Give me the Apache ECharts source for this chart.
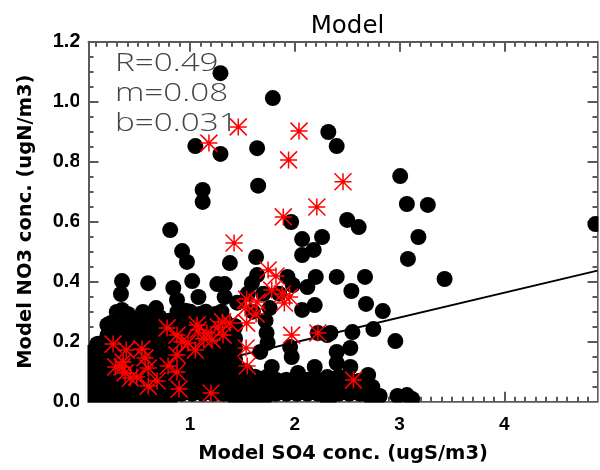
<!DOCTYPE html>
<html><head><meta charset="utf-8">
<style>html,body{margin:0;padding:0;background:#fff}#c{width:600px;height:470px}</style>
<script src="https://cdn.jsdelivr.net/npm/echarts@6/dist/echarts.min.js"></script></head>
<body><div id="c"></div>
<script>
const titleText = "Model";
const xName = "Model SO4 conc. (ugS/m3)";
const yName = "Model NO3 conc. (ugN/m3)";
const statLines = ["R=0.49", "m=0.08", "b=0.031"];
const xMajor = [1, 2, 3, 4];
const yRange = [0, 1.2];
const xRange = [0.03, 4.89];
const fitLine = [[0.03, 0.035], [4.89, 0.437]];

const blackSparse = [
[1.29,1.095],[1.79,1.012],[1.05,0.852],[1.29,0.826],[1.64,0.845],[2.32,0.899],[2.40,0.852],[1.65,0.72],[1.12,0.706],[1.12,0.666],
[3.006,0.752],[3.07,0.659],[3.27,0.656],[3.18,0.549],[3.08,0.476],[3.43,0.409],[2.50,0.606],[2.61,0.582],[2.40,0.416],[2.67,0.416],
[2.54,0.369],[2.68,0.326],[2.84,0.302],[2.75,0.242],[2.55,0.232],[2.96,0.202],[2.53,0.179],[2.40,0.166],[2.40,0.129],[2.53,0.116],
[2.70,0.089],[2.74,0.049],[2.81,0.019],[2.98,0.019],[3.07,0.022],[3.12,0.009],[4.87,0.592],[2.34,0.229],[2.62,0.07],[2.45,0.06],
[0.81,0.572],[0.924,0.502],[0.97,0.466],[1.63,0.482],[1.38,0.462],[1.965,0.599],[2.07,0.542],[2.26,0.549],[2.07,0.489],[2.18,0.506],
[2.20,0.416],[1.93,0.416],[1.64,0.422],[1.59,0.395],[0.35,0.402],[0.60,0.395],[0.34,0.359],[0.84,0.379],[1.02,0.402],[1.26,0.392],
[1.33,0.392],[1.08,0.349],[0.875,0.339],[1.33,0.349],[0.675,0.312],[0.55,0.299],[0.35,0.306],[0.30,0.299],[0.21,0.256],[2.12,0.382],
[2.19,0.322],[2.07,0.306],[1.98,0.389],[1.76,0.312],[1.73,0.229],[1.74,0.196],[1.67,0.166],[1.955,0.182],[1.97,0.149],[2.22,0.229],
[2.31,0.222],[1.78,0.116],[2.03,0.096],[2.19,0.116],[2.31,0.082],[1.73,0.082],[1.85,0.36],[1.70,0.36],[1.55,0.36],[1.45,0.33],
[1.30,0.30],[1.15,0.30],[1.0,0.30],[0.88,0.30],[0.80,0.27],[0.65,0.27],[0.50,0.27],[0.40,0.27],[1.6,0.30],[1.72,0.27]
];
const blackDense = [
[0.03,0.16],[0.03,0.12],[0.03,0.08],[0.03,0.04],[0.03,0.0],[0.12,0.19],[0.12,0.15],[0.12,0.11],[0.12,0.07],[0.12,0.03],[0.12,0.0],
[0.22,0.22],[0.22,0.18],[0.22,0.14],[0.22,0.10],[0.22,0.06],[0.22,0.02],[0.32,0.24],[0.32,0.20],[0.32,0.16],[0.32,0.12],[0.32,0.08],[0.32,0.04],[0.32,0.0],
[0.42,0.25],[0.42,0.21],[0.42,0.17],[0.42,0.13],[0.42,0.09],[0.42,0.05],[0.42,0.01],[0.52,0.25],[0.52,0.21],[0.52,0.17],[0.52,0.13],[0.52,0.09],[0.52,0.05],[0.52,0.01],
[0.62,0.25],[0.62,0.21],[0.62,0.17],[0.62,0.13],[0.62,0.09],[0.62,0.05],[0.62,0.01],[0.72,0.25],[0.72,0.21],[0.72,0.17],[0.72,0.13],[0.72,0.09],[0.72,0.05],[0.72,0.01],
[0.82,0.26],[0.82,0.22],[0.82,0.18],[0.82,0.14],[0.82,0.10],[0.82,0.06],[0.82,0.02],[0.92,0.27],[0.92,0.23],[0.92,0.19],[0.92,0.15],[0.92,0.11],[0.92,0.07],[0.92,0.03],
[1.02,0.27],[1.02,0.23],[1.02,0.19],[1.02,0.15],[1.02,0.11],[1.02,0.07],[1.02,0.03],[1.12,0.27],[1.12,0.23],[1.12,0.19],[1.12,0.15],[1.12,0.11],[1.12,0.07],[1.12,0.03],
[1.22,0.27],[1.22,0.23],[1.22,0.19],[1.22,0.15],[1.22,0.11],[1.22,0.07],[1.22,0.03],[1.32,0.27],[1.32,0.23],[1.32,0.19],[1.32,0.15],[1.32,0.11],[1.32,0.07],[1.32,0.03],
[1.42,0.14],[1.42,0.10],[1.42,0.06],[1.42,0.02],[1.52,0.10],[1.52,0.07],[1.52,0.04],[1.52,0.0],[1.62,0.08],[1.62,0.05],[1.62,0.02],[1.72,0.05],[1.72,0.02],
[1.82,0.07],[1.82,0.03],[1.87,0.05],[1.92,0.07],[1.92,0.03],[1.97,0.05],[2.02,0.07],[2.02,0.03],[2.07,0.05],[2.12,0.07],[2.12,0.03],[2.17,0.05],[2.22,0.07],[2.22,0.03],[2.27,0.05],[2.32,0.05],[2.32,0.01],[2.42,0.08],[2.42,0.03],[2.52,0.07],[2.52,0.03],[2.62,0.03],[2.72,0.02],
[1.42,0.25],[1.42,0.21],[1.42,0.18],[0.25,0.26],[0.40,0.29],[0.58,0.28],[0.70,0.28],[0.96,0.30],[1.10,0.29],[1.25,0.29]
];
const redStars = [
[1.46,0.916],[1.18,0.862],[2.04,0.902],[1.94,0.806],[2.21,0.649],[1.89,0.616],[2.46,0.733],[1.42,0.529],[1.745,0.439],[1.82,0.419],
[1.78,0.372],[1.88,0.359],[1.95,0.349],[1.90,0.329],[1.54,0.342],[1.64,0.332],[1.525,0.312],[1.63,0.292],[1.54,0.262],[1.97,0.222],
[2.22,0.229],[1.535,0.179],[1.545,0.119],[0.78,0.246],[0.875,0.222],[1.067,0.256],[1.076,0.239],[1.16,0.229],[1.31,0.266],[1.27,0.249],
[1.38,0.262],[1.21,0.206],[1.315,0.222],[0.98,0.196],[1.05,0.172],[0.875,0.156],[0.79,0.119],[0.875,0.099],[0.895,0.042],[1.2,0.029],
[0.265,0.192],[0.39,0.172],[0.54,0.176],[0.57,0.146],[0.36,0.132],[0.29,0.116],[0.35,0.116],[0.60,0.112],[0.38,0.096],[0.49,0.082],
[0.43,0.079],[0.685,0.069],[0.60,0.052],[2.56,0.072],[1.13,0.21],[0.92,0.2]
];

const FONT = "Liberation Sans";
const NAMEFONT = "DejaVu Sans";
const GREY = "#5a5a5a";
const xMinor = [];
for (let i = 1; i <= 48; i++) if (i % 10) xMinor.push(i / 10);

function xAx(pos, ticks, len, extra) {
  return Object.assign({
    type: "value", position: pos, min: xRange[0], max: xRange[1], splitLine: {show:false},
    axisLine: {show:true, lineStyle:{color:GREY, width:2}},
    axisTick: {show:true, inside:true, length:len, customValues:ticks, lineStyle:{color:GREY, width:2}},
    axisLabel: {show:false}
  }, extra || {});
}
function yAx(pos, extra) {
  return Object.assign({
    type: "value", position: pos, min: yRange[0], max: yRange[1], interval: 0.2, splitLine:{show:false},
    axisLine:{show:true, lineStyle:{color:GREY, width:2}},
    axisTick:{show:true, inside:true, length:10, lineStyle:{color:GREY, width:2}},
    minorTick:{show:true, splitNumber:4, length:5, lineStyle:{color:GREY, width:2}},
    axisLabel:{show:false}
  }, extra || {});
}
const starPath = "path://M0 -10L0 10M-10 0L10 0M-10 -10L10 10M-10 10L10 -10";

// white strips that trim round markers to the plot frame (scatter symbols are not clipped by the library)
const trims = [
  {x:79, y:41, width:8.5, height:375},
  {x:79, y:402.8, width:521, height:11},
  {x:598.6, y:41, width:2, height:375}
];

const chart = echarts.init(document.getElementById("c"));
chart.setOption({
  animation:false,
  backgroundColor:"#fff",
  title:{text:titleText, left:342.5, top:9, textAlign:"center",
    textStyle:{fontFamily:NAMEFONT, fontSize:24.5, fontWeight:"normal", color:"#000"}},
  grid:{left:88.5, right:2.5, top:41.7, bottom:68.3, outerBoundsMode:"none"},
  xAxis:[
    xAx("bottom", xMajor, 10, {
      name:xName, nameLocation:"middle", nameGap:42,
      nameTextStyle:{fontFamily:NAMEFONT, fontSize:19.5, fontWeight:"bold", color:"#000"},
      axisLabel:{show:true, customValues:xMajor, margin:14, fontFamily:FONT, fontSize:19, fontWeight:"bold", color:"#000", formatter:v=>String(v)}
    }),
    xAx("bottom", xMinor, 5),
    xAx("top", xMajor, 10),
    xAx("top", xMinor, 5)
  ],
  yAxis:[
    yAx("left", {
      name:yName, nameLocation:"middle", nameGap:53, nameRotate:90,
      nameTextStyle:{fontFamily:NAMEFONT, fontSize:19.5, fontWeight:"bold", color:"#000"},
      axisLabel:{show:true, margin:8, fontFamily:FONT, fontSize:20, fontWeight:"bold", color:"#000", formatter:v=>v.toFixed(1)}
    }),
    yAx("right")
  ],
  series:[
    {type:"scatter", name:"dense", data:blackDense, symbol:"circle", symbolSize:18, itemStyle:{color:"#000", opacity:1}, clip:true, z:2},
    {type:"scatter", name:"sparse", data:blackSparse, symbol:"circle", symbolSize:16, itemStyle:{color:"#000", opacity:1}, clip:true, z:2},
    {type:"line", name:"fit", data:fitLine, symbol:"none", lineStyle:{color:"#000", width:2}, clip:true, z:3},
    {type:"scatter", name:"stars", data:redStars, symbol:starPath, symbolSize:17, symbolKeepAspect:true,
      itemStyle:{color:"rgba(0,0,0,0)", borderColor:"#ff0000", borderWidth:1.5, opacity:1}, clip:true, z:4}
  ],
  graphic: statLines.map((t,i)=>({type:"text", left:115, top:51+i*30, z:10, scaleX:1.33,
     style:{text:t, fontFamily:"Open Sans", fontSize:25, fontWeight:300, fill:"#444"}}))
    .concat(trims.map(r=>({type:"rect", shape:r, z:5, silent:true, style:{fill:"#fff"}})))
});
</script></body></html>
